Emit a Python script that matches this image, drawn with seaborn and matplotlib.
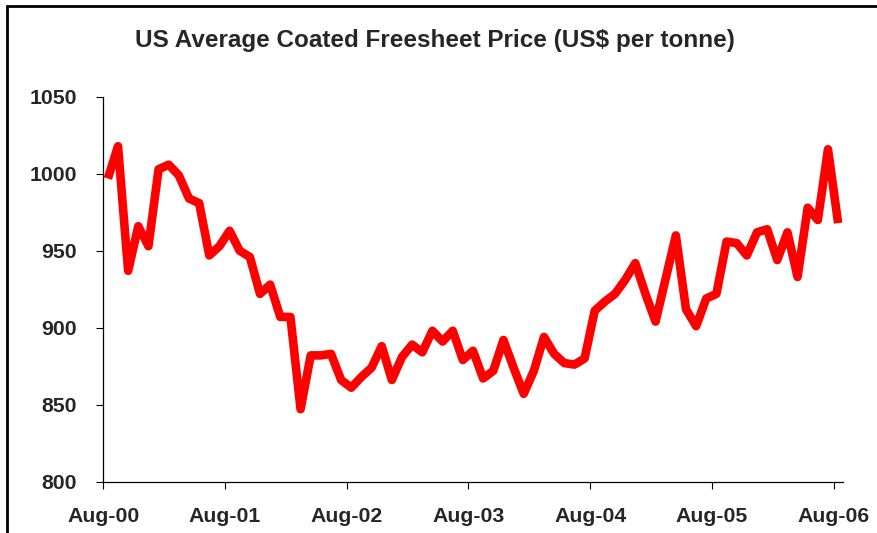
import matplotlib
matplotlib.use("Agg")
import matplotlib.pyplot as plt
from matplotlib.lines import Line2D
import seaborn as sns
import pandas as pd

# ---- data ----
months = pd.date_range("2000-08-01", periods=73, freq="MS").strftime("%b-%y").tolist()
prices = [997, 1018, 937, 966, 953, 1003, 1006, 999, 984, 981,
          947, 953, 963, 950, 946, 922, 928, 907, 907, 847,
          882, 882, 883, 866, 861, 868, 874, 888, 866, 881,
          889, 884, 898, 891, 898, 879, 885, 867, 872, 892,
          874, 857, 872, 894, 883, 877, 876, 880, 911, 917,
          922, 931, 942, 922, 904, 932, 960, 912, 901, 919,
          922, 956, 955, 947, 962, 964, 944, 962, 933, 978,
          970, 1016, 968]
tick_labels = ["Aug-00", "Aug-01", "Aug-02", "Aug-03", "Aug-04", "Aug-05", "Aug-06"]
y_ticks = [800, 850, 900, 950, 1000, 1050]
title = "US Average Coated Freesheet Price (US$ per tonne)"

df = pd.DataFrame({"idx": range(len(months)), "month": months, "price": prices})
# points sit a little after the start of each month on the date axis
df["x"] = df["idx"] + 0.45

sns.set_style("white")
plt.rcParams["font.family"] = ["Liberation Sans", "DejaVu Sans"]
plt.rcParams["font.weight"] = "bold"

W, H = 878, 533
fig = plt.figure(figsize=(W / 100, H / 100), dpi=100)
ax = fig.add_axes([103.3 / W, 1 - 481.5 / H, (842.7 - 103.3) / W, (481.5 - 97) / H])

sns.lineplot(data=df, x="x", y="price", ax=ax, color="#FF0000", linewidth=6.2,
             solid_joinstyle="round", solid_capstyle="butt")

ax.set_xlim(0, 72.9)
ax.set_ylim(800, 1050)
tick_pos = [df.loc[df["month"] == m, "idx"].iloc[0] for m in tick_labels]
ax.set_xticks(tick_pos)
ax.set_xticklabels(tick_labels, fontsize=15.3, fontweight="bold")
ax.set_yticks(y_ticks)
ax.set_yticklabels([str(v) for v in y_ticks], fontsize=15.3, fontweight="bold")
ax.set_xlabel("")
ax.set_ylabel("")
ax.tick_params(axis="x", direction="out", length=5, width=0.8, color="black", pad=13, bottom=True)
ax.tick_params(axis="y", direction="out", length=5, width=0.8, color="black", pad=14, left=True)
for s in ["top", "right"]:
    ax.spines[s].set_visible(False)
for s in ["left", "bottom"]:
    ax.spines[s].set_color("black")
    ax.spines[s].set_linewidth(0.9)

fig.text(435 / W, 1 - 40 / H, title, ha="center", va="center", fontsize=17.5, fontweight="bold")

# outer chart frame (left and top edges visible)
fig.add_artist(Line2D([6.7 / W, 6.7 / W], [0, 1 - 5.5 / H], transform=fig.transFigure,
                      color="black", linewidth=2.0))
fig.add_artist(Line2D([6.7 / W, 1.0], [1 - 5.5 / H, 1 - 5.5 / H], transform=fig.transFigure,
                      color="black", linewidth=2.0))

fig.savefig("out.png", dpi=100)
